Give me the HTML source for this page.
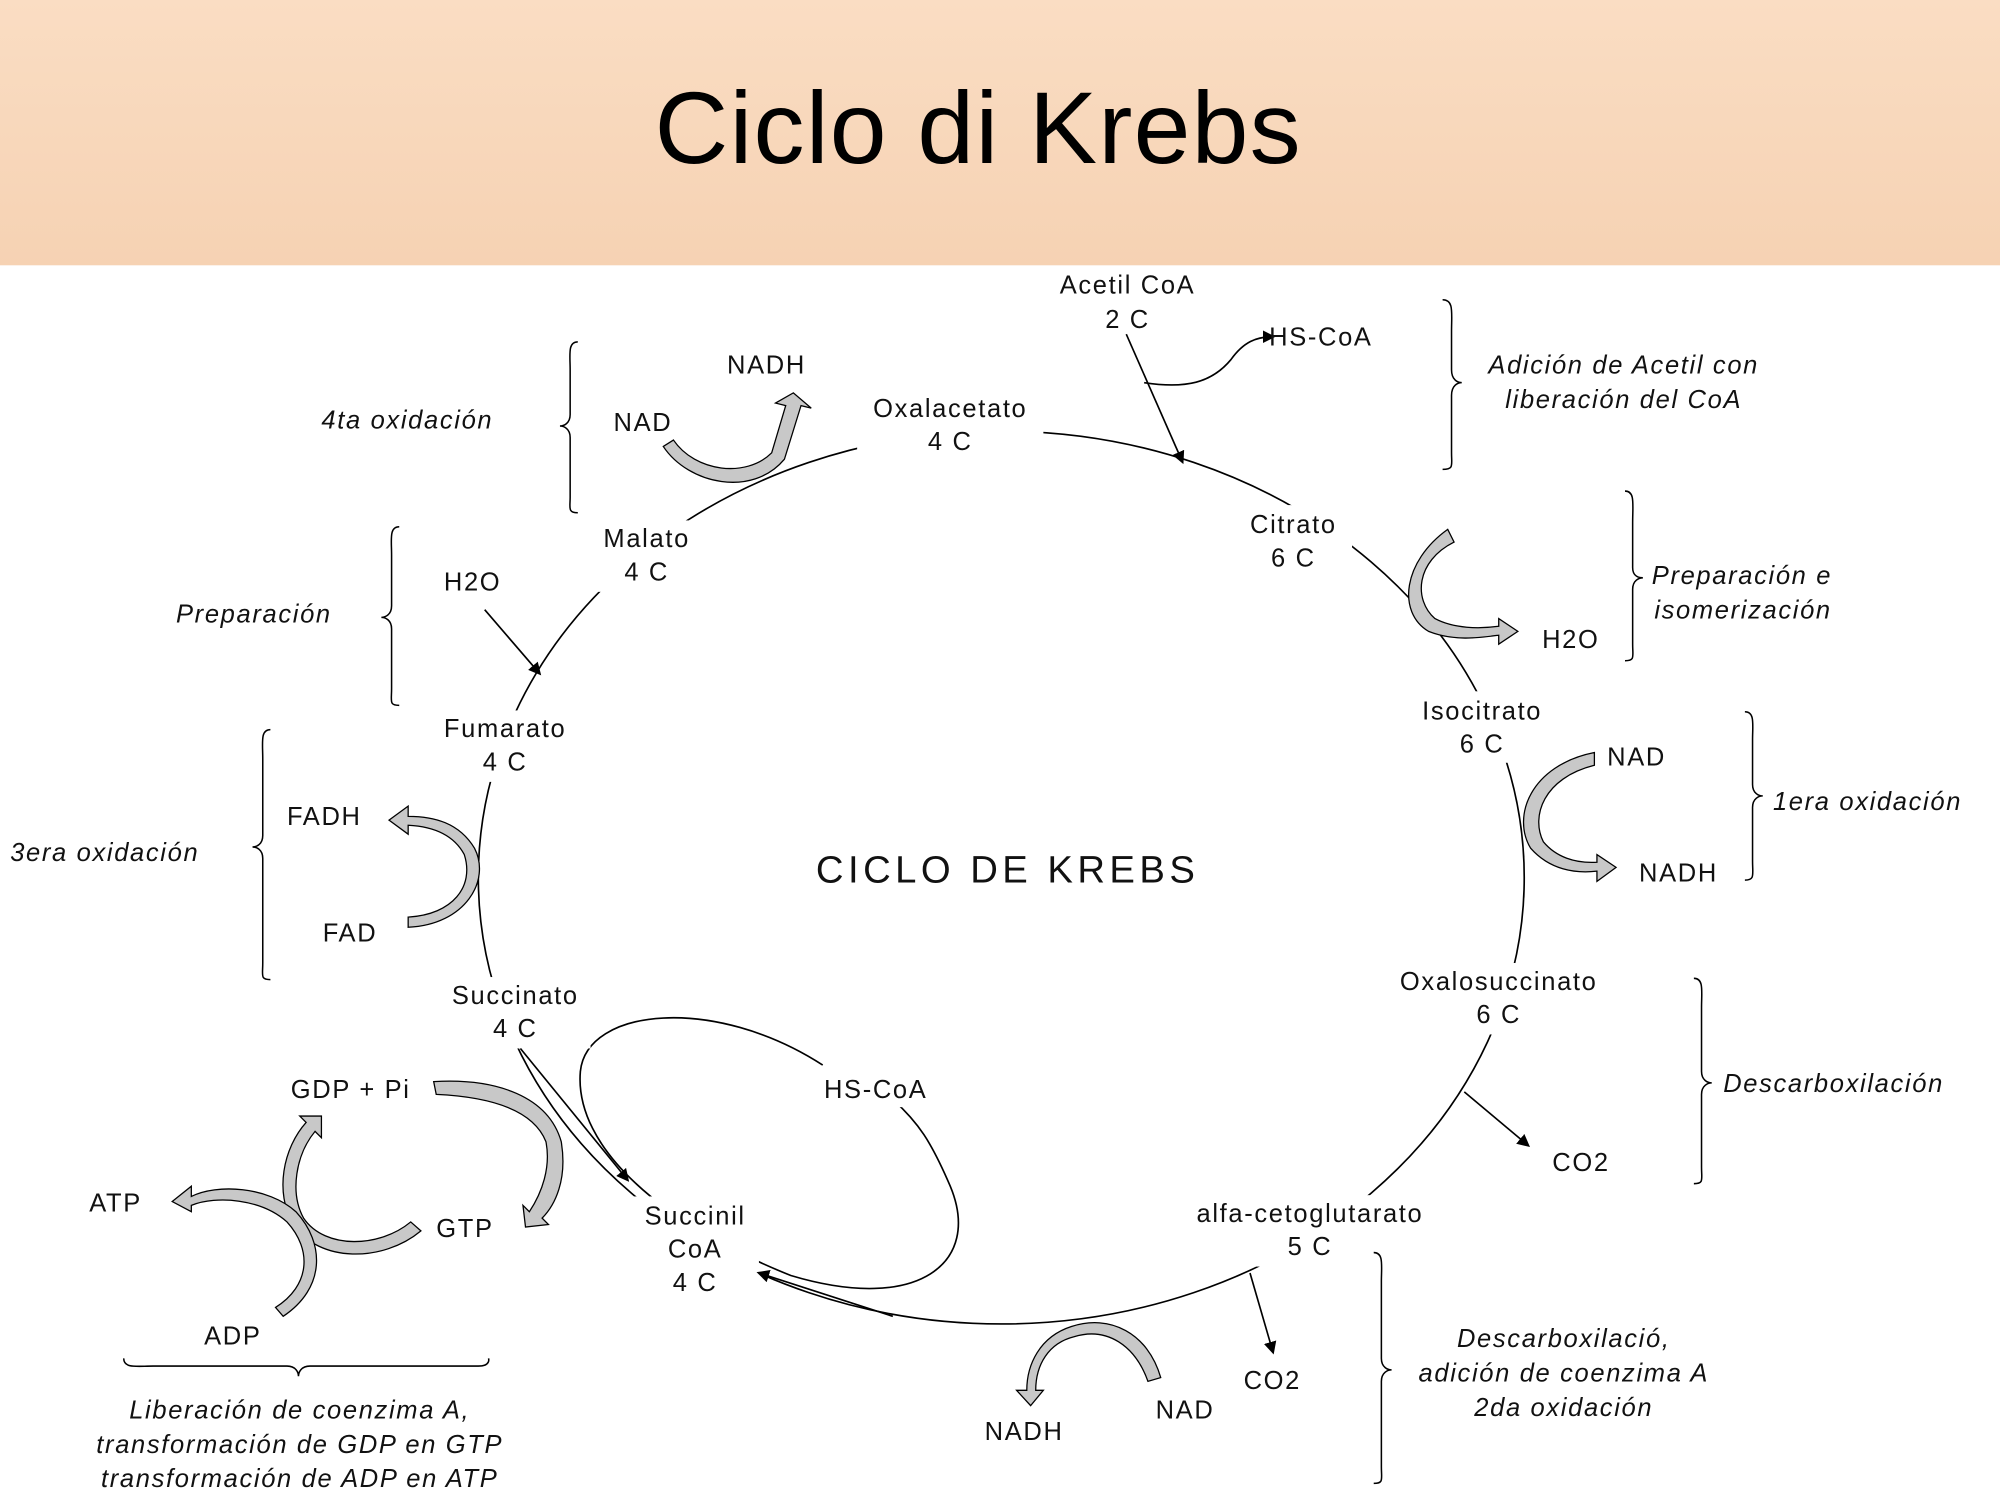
<!DOCTYPE html>
<html><head><meta charset="utf-8"><style>
html,body{margin:0;padding:0;background:#fff}
svg{display:block}
text{font-family:"Liberation Sans",sans-serif;fill:#111}
.l{font-size:20px;letter-spacing:1.3px}
.i{font-size:20px;font-style:italic;letter-spacing:1.3px}
</style></head><body>
<svg width="2000" height="1500" viewBox="0 0 1568 1176" preserveAspectRatio="none" xmlns="http://www.w3.org/2000/svg">
<defs>
<linearGradient id="hg" x1="0" y1="0" x2="0" y2="1"><stop offset="0" stop-color="#FADDC3"/><stop offset="1" stop-color="#F6D2B3"/></linearGradient>
<marker id="ah" markerWidth="10" markerHeight="10" refX="8" refY="5" orient="auto" markerUnits="userSpaceOnUse"><path d="M0,0 L10,5 L0,10 z" fill="#000"/></marker>
</defs>
<rect x="0" y="0" width="1568" height="208" fill="url(#hg)"/>
<text x="767" y="128" text-anchor="middle" style="font-size:80px;fill:#000;letter-spacing:1px">Ciclo di Krebs</text>

<ellipse cx="785" cy="688" rx="410" ry="350" fill="none" stroke="#000" stroke-width="1.3"/>
<!-- HS-CoA loop -->
<path d="M645,835 C560,780 460,790 455,840 C450,900 520,960 620,1000 C720,1030 770,990 745,930 C730,895 720,880 700,862" fill="none" stroke="#000" stroke-width="1.3"/>
<g fill="#fff">
<rect x="672" y="305" width="146" height="56"/>
<rect x="970" y="396" width="90" height="56"/>
<rect x="1105" y="542" width="115" height="56"/>
<rect x="1085" y="755" width="180" height="56"/>
<rect x="925" y="937" width="205" height="56"/>
<rect x="495" y="938" width="100" height="82"/>
<rect x="345" y="766" width="118" height="56"/>
<rect x="336" y="557" width="120" height="56"/>
<rect x="462" y="408" width="90" height="56"/>
<rect x="620" y="660" width="340" height="60"/>
<rect x="640" y="840" width="100" height="28"/>
</g>
<g class="l" text-anchor="middle">
<text x="745" y="327">Oxalacetato</text><text x="745" y="353">4 C</text>
<text x="1014" y="418">Citrato</text><text x="1014" y="444">6 C</text>
<text x="1162" y="564">Isocitrato</text><text x="1162" y="590">6 C</text>
<text x="1175" y="776">Oxalosuccinato</text><text x="1175" y="802">6 C</text>
<text x="1027" y="958">alfa-cetoglutarato</text><text x="1027" y="984">5 C</text>
<text x="545" y="960">Succinil</text><text x="545" y="986">CoA</text><text x="545" y="1012">4 C</text>
<text x="404" y="787">Succinato</text><text x="404" y="813">4 C</text>
<text x="396" y="578">Fumarato</text><text x="396" y="604">4 C</text>
<text x="507" y="429">Malato</text><text x="507" y="455">4 C</text>
<text x="884" y="230">Acetil CoA</text><text x="884" y="257">2 C</text>
</g>
<text x="790" y="692" text-anchor="middle" style="font-size:30px;letter-spacing:3.5px">CICLO DE KREBS</text>

<line x1="883" y1="262" x2="927" y2="362" stroke="#000" stroke-width="1.3" marker-end="url(#ah)"/>
<path d="M897,300 C930,305 950,300 965,282 C975,268 985,264 998,264" fill="none" stroke="#000" stroke-width="1.3" marker-end="url(#ah)"/>
<text class="l" x="995" y="271">HS-CoA</text>
<line x1="380" y1="478" x2="423" y2="528" stroke="#000" stroke-width="1.3" marker-end="url(#ah)"/>
<text class="l" x="348" y="463">H2O</text>
<line x1="1148" y1="856" x2="1198" y2="898" stroke="#000" stroke-width="1.3" marker-end="url(#ah)"/>
<text class="l" x="1217" y="918">CO2</text>
<line x1="980" y1="998" x2="998" y2="1060" stroke="#000" stroke-width="1.3" marker-end="url(#ah)"/>
<text class="l" x="975" y="1089">CO2</text>
<line x1="700" y1="1032" x2="595" y2="998" stroke="#000" stroke-width="1.3" marker-end="url(#ah)"/>
<line x1="408" y1="822" x2="492" y2="925" stroke="#000" stroke-width="1.3" marker-end="url(#ah)"/>
<text class="l" x="646" y="861">HS-CoA</text>

<g fill="#c8c8c8" stroke="#000" stroke-width="1">
<path d="M520,350 C540,380 590,390 615,360 L628,318 L636,320 L622,308 L608,316 L616,318 L605,355 C585,375 545,370 528,345 Z"/>
<path d="M1135,415 C1100,440 1095,480 1120,495 C1140,503 1160,500 1175,498 L1175,505 L1190,495 L1175,485 L1175,491 C1160,493 1140,493 1125,485 C1108,470 1110,440 1140,425 Z"/>
<path d="M1250,590 C1200,600 1185,640 1200,665 C1215,682 1235,685 1252,683 L1252,691 L1267,680 L1252,670 L1252,676 C1235,677 1220,672 1210,660 C1200,640 1210,610 1250,600 Z"/>
<path d="M320,727 C365,725 385,690 372,665 C360,645 340,640 320,640 L320,632 L305,643 L320,654 L320,647 C340,648 356,655 364,670 C372,695 355,717 320,719 Z"/>
<path d="M340,848 C390,845 430,860 440,895 C445,925 435,945 425,955 L430,960 L412,962 L410,945 L415,950 C425,935 432,915 428,895 C418,870 385,860 342,858 Z"/>
<path d="M330,965 C300,990 250,990 230,960 C215,935 222,900 240,880 L235,875 L252,875 L252,892 L247,887 C232,905 227,935 238,955 C255,980 298,978 322,958 Z"/>
<path d="M222,1032 C255,1010 255,975 232,950 C210,930 170,928 150,938 L150,930 L135,942 L150,950 L150,945 C170,937 205,940 225,958 C245,980 243,1008 216,1025 Z"/>
<path d="M910,1080 C900,1045 870,1030 840,1040 C815,1048 805,1070 805,1090 L797,1090 L808,1102 L818,1090 L812,1090 C812,1070 822,1053 842,1048 C868,1040 890,1055 900,1083 Z"/>
</g>
<g class="l">
<text x="570" y="293">NADH</text><text x="481" y="338">NAD</text>
<text x="1209" y="508">H2O</text>
<text x="1260" y="600">NAD</text><text x="1285" y="691">NADH</text>
<text x="225" y="647">FADH</text><text x="253" y="738">FAD</text>
<text x="228" y="861">GDP + Pi</text><text x="342" y="970">GTP</text>
<text x="70" y="950">ATP</text><text x="160" y="1054">ADP</text>
<text x="772" y="1129">NADH</text><text x="906" y="1112">NAD</text>
</g>

<g fill="none" stroke="#000" stroke-width="1.2">
<path d="M1131,235 C1140,235 1138,245 1138,260 L1138,290 C1138,298 1143,300 1146,300 C1143,300 1138,302 1138,310 L1138,355 C1138,365 1140,368 1131,368"/>
<path d="M1274,385 C1282,385 1280,395 1280,410 L1280,445 C1280,452 1285,453 1288,453 C1285,453 1280,455 1280,462 L1280,505 C1280,515 1282,518 1274,518"/>
<path d="M1368,558 C1376,558 1374,568 1374,580 L1374,615 C1374,622 1379,624 1382,624 C1379,624 1374,626 1374,633 L1374,675 C1374,686 1376,690 1368,690"/>
<path d="M1328,767 C1336,767 1334,777 1334,790 L1334,840 C1334,847 1339,849 1342,849 C1339,849 1334,851 1334,858 L1334,915 C1334,925 1336,928 1328,928"/>
<path d="M1083,982 C1075,982 1077,992 1077,1005 L1077,1065 C1077,1072 1072,1074 1069,1074 C1072,1074 1077,1076 1077,1083 L1077,1150 C1077,1160 1075,1163 1083,1163" transform="translate(2160,0) scale(-1,1)"/>
<path d="M453,268 C445,268 447,278 447,290 L447,325 C447,332 442,334 439,334 C442,334 447,336 447,343 L447,390 C447,398 445,402 453,402"/>
<path d="M313,413 C305,413 307,423 307,435 L307,475 C307,482 302,484 299,484 C302,484 307,486 307,493 L307,540 C307,550 305,553 313,553"/>
<path d="M212,572 C204,572 206,582 206,595 L206,655 C206,662 201,664 198,664 C201,664 206,666 206,673 L206,755 C206,765 204,768 212,768"/>
<path d="M97,1065 C97,1073 107,1071 120,1071 L225,1071 C232,1071 234,1076 234,1079 C234,1076 236,1071 243,1071 L375,1071 C385,1071 383,1065 383,1065"/>
</g>
<g class="i">
<text x="1273" y="293" text-anchor="middle">Adición de Acetil con</text>
<text x="1273" y="320" text-anchor="middle">liberación del CoA</text>
<text x="1295" y="458">Preparación e</text><text x="1297" y="485">isomerización</text>
<text x="1390" y="635">1era oxidación</text>
<text x="1351" y="856">Descarboxilación</text>
<text x="1226" y="1056" text-anchor="middle">Descarboxilació,</text>
<text x="1226" y="1083" text-anchor="middle">adición de coenzima A</text>
<text x="1226" y="1110" text-anchor="middle">2da oxidación</text>
<text x="252" y="336">4ta oxidación</text>
<text x="138" y="488">Preparación</text>
<text x="8" y="675">3era oxidación</text>
<text x="235" y="1112" text-anchor="middle">Liberación de coenzima A,</text>
<text x="235" y="1139" text-anchor="middle">transformación de GDP en GTP</text>
<text x="235" y="1166" text-anchor="middle">transformación de ADP en ATP</text>
</g>
</svg>
</body></html>
